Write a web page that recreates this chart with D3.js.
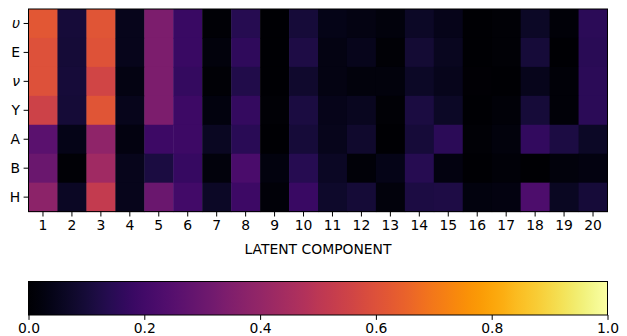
<!DOCTYPE html>
<html>
<head>
<meta charset="utf-8">
<script src="https://cdn.jsdelivr.net/npm/d3@7"></script>
<style>
  body { margin: 0; background: #fff; }
  text { font-family: "DejaVu Sans", sans-serif; fill: #000; }
</style>
</head>
<body>
<div id="chart"></div>
<script>
var svgWidth = 627;
var svgHeight = 336;

var rowLabels = ["υ", "E", "ν", "Y", "A", "B", "H"];
var columns = d3.range(1, 21);

var rowU  = [0.62, 0.10, 0.61, 0.05, 0.34, 0.18, 0.01, 0.14, 0.00, 0.10, 0.04, 0.035, 0.02, 0.07, 0.045, 0.00, 0.01, 0.07, 0.015, 0.15];
var rowE  = [0.60, 0.095, 0.605, 0.05, 0.34, 0.18, 0.02, 0.16, 0.00, 0.12, 0.035, 0.05, 0.01, 0.09, 0.055, 0.00, 0.01, 0.10, 0.00, 0.145];
var rowNu = [0.60, 0.10, 0.56, 0.035, 0.34, 0.17, 0.01, 0.125, 0.00, 0.08, 0.035, 0.02, 0.02, 0.07, 0.05, 0.005, 0.00, 0.05, 0.015, 0.15];
var rowY  = [0.55, 0.095, 0.61, 0.05, 0.34, 0.19, 0.025, 0.17, 0.01, 0.11, 0.045, 0.055, 0.01, 0.11, 0.07, 0.00, 0.015, 0.10, 0.015, 0.15];
var rowA  = [0.26, 0.04, 0.39, 0.03, 0.19, 0.19, 0.06, 0.145, 0.00, 0.10, 0.05, 0.08, 0.00, 0.10, 0.15, 0.01, 0.02, 0.165, 0.115, 0.07];
var rowB  = [0.30, 0.01, 0.43, 0.05, 0.11, 0.175, 0.02, 0.22, 0.025, 0.14, 0.065, 0.015, 0.04, 0.14, 0.03, 0.00, 0.015, 0.00, 0.02, 0.03];
var rowH  = [0.38, 0.065, 0.52, 0.05, 0.30, 0.20, 0.07, 0.19, 0.015, 0.18, 0.075, 0.095, 0.02, 0.115, 0.12, 0.025, 0.03, 0.23, 0.06, 0.10];
var values = [rowU, rowE, rowNu, rowY, rowA, rowB, rowH];

var colorbarTicks = [0, 0.2, 0.4, 0.6, 0.8, 1.0];

var margin = { left: 28.5, top: 9 };
var width = 579;
var height = 202.6;
var fontSize = "13.9px";

var svg = d3.select("#chart")
  .append("svg")
  .attr("width", svgWidth)
  .attr("height", svgHeight);

var chartGroup = svg.append("g")
  .attr("transform", `translate(${margin.left}, ${margin.top})`);

var xScale = d3.scaleBand().domain(columns).range([0, width]);
var yScale = d3.scaleBand().domain(rowLabels).range([0, height]);
var color = d3.scaleSequential(d3.interpolateInferno).domain([0, 1]);

var cells = [];
values.forEach(function(row, i) {
  row.forEach(function(v, j) {
    cells.push({ row: rowLabels[i], col: columns[j], value: v });
  });
});

chartGroup.selectAll("rect.cell")
  .data(cells)
  .enter()
  .append("rect")
  .attr("class", "cell")
  .attr("x", d => xScale(d.col))
  .attr("y", d => yScale(d.row))
  .attr("width", xScale.bandwidth() + 0.5)
  .attr("height", yScale.bandwidth() + 0.5)
  .attr("fill", d => color(d.value));

chartGroup.append("rect")
  .attr("width", width)
  .attr("height", height)
  .attr("fill", "none")
  .attr("stroke", "#000")
  .attr("stroke-width", 1);

var xAxis = chartGroup.append("g")
  .attr("transform", `translate(0, ${height})`)
  .call(d3.axisBottom(xScale).tickSizeOuter(0).tickSize(4.9).tickPadding(3.5));

var yAxis = chartGroup.append("g")
  .call(d3.axisLeft(yScale).tickSizeOuter(0).tickSize(4.9).tickPadding(3.5));

[xAxis, yAxis].forEach(function(ax) {
  ax.select(".domain").remove();
  ax.attr("font-size", null).attr("font-family", null);
  ax.selectAll("text").style("font-size", fontSize).style("font-family", "DejaVu Sans");
});
yAxis.selectAll("text")
  .style("font-style", d => (d === "υ" || d === "ν") ? "italic" : "normal");

chartGroup.append("text")
  .attr("x", width / 2)
  .attr("y", height + 42)
  .attr("text-anchor", "middle")
  .style("font-size", fontSize)
  .text("LATENT COMPONENT");

// colorbar
var cbTop = 281.5;
var cbHeight = 33.5;
var cbScale = d3.scaleLinear().domain([0, 1]).range([margin.left, margin.left + width]);

var defs = svg.append("defs");
var grad = defs.append("linearGradient").attr("id", "inferno");
d3.range(0, 1.0001, 0.02).forEach(function(t) {
  grad.append("stop").attr("offset", t).attr("stop-color", color(t));
});

svg.append("rect")
  .attr("x", cbScale(0))
  .attr("y", cbTop)
  .attr("width", cbScale(1) - cbScale(0))
  .attr("height", cbHeight)
  .attr("fill", "url(#inferno)")
  .attr("stroke", "#000")
  .attr("stroke-width", 1);

var cbAxis = svg.append("g")
  .attr("transform", `translate(0, ${cbTop + cbHeight})`)
  .call(d3.axisBottom(cbScale).tickValues(colorbarTicks).tickFormat(d3.format(".1f")).tickSize(4.9).tickPadding(3.5));
cbAxis.select(".domain").remove();
cbAxis.attr("font-size", null).attr("font-family", null);
cbAxis.selectAll("text").style("font-size", fontSize).style("font-family", "DejaVu Sans");
</script>
</body>
</html>
